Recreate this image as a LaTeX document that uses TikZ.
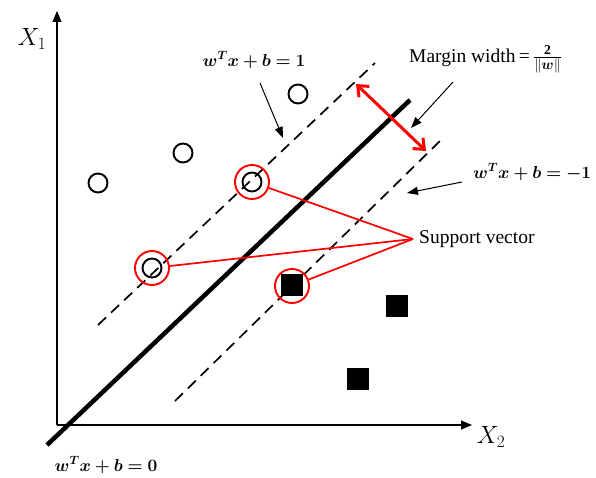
\documentclass[tikz,border=0pt]{standalone}
\usepackage{fontspec}
\setmainfont{Liberation Serif}
\usepackage{amsmath}
\usepackage{bm}
\usetikzlibrary{arrows.meta}
\tikzset{
  axis/.style={line width=1.1pt,-{Triangle[length=11pt,width=9pt]}},
  hyper/.style={line width=4.5pt},
  margin/.style={line width=1.7pt,dash pattern=on 11pt off 7pt},
  ptr/.style={line width=1pt,-{Triangle[length=11pt,width=8pt]}},
  redarr/.style={red,line width=3pt,{Straight Barb[length=9pt,width=15pt]}-{Straight Barb[length=9pt,width=15pt]}},
  redline/.style={red,line width=1.7pt},
  opt/.style={circle,draw,line width=1.9pt,minimum size=19pt,inner sep=0pt},
  sq/.style={fill=black,minimum size=22.5pt,inner sep=0pt},
  svring/.style={circle,draw=red,line width=1.9pt,minimum size=34pt,inner sep=0pt},
  txt/.style={font=\fontsize{19.5}{21}\selectfont,inner sep=0pt},
  mth/.style={font=\fontsize{17.8}{20}\selectfont,inner sep=0pt},
}
\begin{document}
\begin{tikzpicture}[x=1pt,y=-1pt]
\useasboundingbox (0,0) rectangle (596,478);
% axes
\coordinate (o) at (57,425);
\coordinate (yend) at (57,11);
\coordinate (xend) at (472,425);
\draw[axis] (o) -- (yend);
\draw[axis] (o) -- (xend);
\node[font=\fontsize{25}{27}\selectfont] (x1) at (32,39) {$X_1$};
\node[font=\fontsize{25}{27}\selectfont] (x2) at (491,437) {$X_2$};
% hyperplanes
\coordinate (h0a) at (47,445);
\coordinate (h0b) at (410,100);
\coordinate (h1a) at (98,325);
\coordinate (h1b) at (375,63);
\coordinate (h2a) at (175,401);
\coordinate (h2b) at (442,139);
\draw[hyper] (h0a) -- (h0b);
\draw[margin] (h1a) -- (h1b);
\draw[margin] (h2a) -- (h2b);
% labels
\node[mth] (l1) at (254,60) {$\bm{w^T x + b = 1}$};
\node[mth,anchor=west] (lm1) at (473,172) {$\bm{w^T x + b = -1}$};
\node[mth] (l0) at (106,465) {$\bm{w^T x + b = 0}$};
\node[txt,anchor=west] (mw) at (409,59) {Margin width\,=\,$\frac{\mathbf{2}}{\|\bm{w}\|}$};
\node[txt,anchor=west] (sv) at (419,239) {Support vector};
% pointer arrows
\coordinate (p1s) at (260,83);
\coordinate (p1e) at (283,138);
\coordinate (pms) at (453,82);
\coordinate (pme) at (411,128);
\coordinate (p2s) at (462,182);
\coordinate (p2e) at (407,193);
\draw[ptr] (p1s) -- (p1e);
\draw[ptr] (pms) -- (pme);
\draw[ptr] (p2s) -- (p2e);
% margin arrow
\coordinate (ma) at (356,84);
\coordinate (mb) at (426,151);
\draw[redarr] (ma) -- (mb);
% points
\node[opt] (c1) at (98,183) {};
\node[opt] (c2) at (183,153) {};
\node[opt] (c3) at (298,94) {};
\node[opt] (c4) at (252,182) {};
\node[opt] (c5) at (152,268) {};
\node[sq] (s1) at (292,285) {};
\node[sq] (s2) at (397,306) {};
\node[sq] (s3) at (358,379) {};
\node[svring] (r1) at (252,182) {};
\node[svring] (r2) at (152,268) {};
\node[svring] (r3) at (292,286) {};
% support vector lines
\coordinate (svp) at (413,239);
\draw[redline] (svp) -- (r1);
\draw[redline] (svp) -- (r2);
\draw[redline] (svp) -- (r3);
\end{tikzpicture}
\end{document}
